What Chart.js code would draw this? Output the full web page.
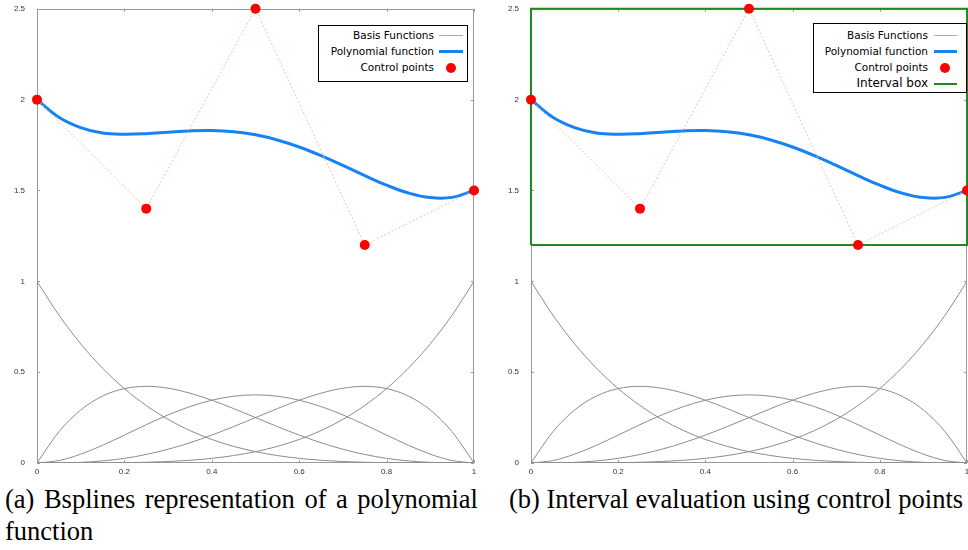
<!DOCTYPE html>
<html>
<head>
<meta charset="utf-8">
<script src="https://cdn.jsdelivr.net/npm/chart.js@4.4.1/dist/chart.umd.min.js"></script>
<style>
  html, body { margin: 0; padding: 0; background: #fff; }
  body { width: 968px; height: 550px; overflow: hidden; position: relative; }
  canvas { position: absolute; top: -8px; }
  .legend { position: absolute; border: 1px solid #000; background: #fff; box-sizing: border-box;
            font-family: "DejaVu Sans", sans-serif; font-size: 10.5px; color: #000; }
  .row { display: flex; align-items: center; height: 16px; }
  .row .txt { text-align: right; white-space: nowrap; }
  .row .smp { position: relative; height: 16px; }
  .caption { position: absolute; font-family: "Liberation Serif", serif;
             font-size: 26.5px; line-height: 32px; color: #000; }
</style>
</head>
<body>
<canvas id="left" width="484" height="488" style="left:0"></canvas>
<canvas id="right" width="484" height="488" style="left:494px"></canvas>

<div class="legend" style="left:318px; top:25px; width:150px; height:57px; padding-top:1px;">
  <div class="row"><span class="txt" style="width:115px">Basis Functions</span><span class="smp" style="margin-left:5px;width:24px"><i style="position:absolute;left:0;right:0;top:8px;border-top:1px solid #aaa"></i></span></div>
  <div class="row"><span class="txt" style="width:115px">Polynomial function</span><span class="smp" style="margin-left:5px;width:24px"><i style="position:absolute;left:0;right:0;top:7px;border-top:3px solid #1683f5"></i></span></div>
  <div class="row"><span class="txt" style="width:115px">Control points</span><span class="smp" style="margin-left:5px;width:24px"><i style="position:absolute;left:7px;top:4px;width:10px;height:10px;border-radius:50%;background:#f00"></i></span></div>
</div>

<div class="legend" style="left:813px; top:23px; width:154px; height:70px; padding-top:3px;">
  <div class="row"><span class="txt" style="width:114px">Basis Functions</span><span class="smp" style="margin-left:6px;width:23px"><i style="position:absolute;left:0;right:0;top:8px;border-top:1px solid #aaa"></i></span></div>
  <div class="row"><span class="txt" style="width:114px">Polynomial function</span><span class="smp" style="margin-left:6px;width:23px"><i style="position:absolute;left:0;right:0;top:7px;border-top:3px solid #1683f5"></i></span></div>
  <div class="row"><span class="txt" style="width:114px">Control points</span><span class="smp" style="margin-left:6px;width:23px"><i style="position:absolute;left:6px;top:4px;width:10px;height:10px;border-radius:50%;background:#f00"></i></span></div>
  <div class="row"><span class="txt" style="width:114px;font-size:12px">Interval box</span><span class="smp" style="margin-left:6px;width:23px"><i style="position:absolute;left:0;right:0;top:8px;border-top:2px solid #1f8a1f"></i></span></div>
</div>

<div class="caption" style="left:5px; top:483px; width:473px; text-align:justify;">(a) Bsplines representation of a polynomial function</div>
<div class="caption" style="left:509px; top:483px; white-space:nowrap;">(b) Interval evaluation using control points</div>

<script>
// sample positions along the parameter axis
const tValues = [0, 0.05, 0.1, 0.15, 0.2, 0.25, 0.3, 0.35, 0.4, 0.45, 0.5,
                 0.55, 0.6, 0.65, 0.7, 0.75, 0.8, 0.85, 0.9, 0.95, 1];

const basis0 = [1, 0.8145, 0.6561, 0.5220, 0.4096, 0.3164, 0.2401, 0.1785, 0.1296, 0.0915, 0.0625,
                0.0410, 0.0256, 0.0150, 0.0081, 0.0039, 0.0016, 0.0005, 0.0001, 0.0000, 0];
const basis1 = [0, 0.1715, 0.2916, 0.3685, 0.4096, 0.4219, 0.4116, 0.3845, 0.3456, 0.2995, 0.25,
                0.2005, 0.1536, 0.1115, 0.0756, 0.0469, 0.0256, 0.0115, 0.0036, 0.0005, 0];
const basis2 = [0, 0.0135, 0.0486, 0.0975, 0.1536, 0.2109, 0.2646, 0.3105, 0.3456, 0.3675, 0.375,
                0.3675, 0.3456, 0.3105, 0.2646, 0.2109, 0.1536, 0.0975, 0.0486, 0.0135, 0];
const basis3 = [0, 0.0005, 0.0036, 0.0115, 0.0256, 0.0469, 0.0756, 0.1115, 0.1536, 0.2005, 0.25,
                0.2995, 0.3456, 0.3845, 0.4116, 0.4219, 0.4096, 0.3685, 0.2916, 0.1715, 0];
const basis4 = [0, 0.0000, 0.0001, 0.0005, 0.0016, 0.0039, 0.0081, 0.0150, 0.0256, 0.0410, 0.0625,
                0.0915, 0.1296, 0.1785, 0.2401, 0.3164, 0.4096, 0.5220, 0.6561, 0.8145, 1];

// the blue polynomial curve
const polynomial = [2, 1.9035, 1.8464, 1.8163, 1.8098, 1.8129, 1.8208, 1.8279, 1.8298, 1.8232, 1.8063,
                    1.7782, 1.7394, 1.6916, 1.6376, 1.5816, 1.5290, 1.4861, 1.4608, 1.4621, 1.5];

// control points
const ctrlX = [0, 0.25, 0.5, 0.75, 1];
const ctrlY = [2, 1.4, 2.5, 1.2, 1.5];

// interval box corners (right plot)
const boxX = [0, 1, 1, 0, 0];
const boxY = [1.2, 1.2, 2.5, 2.5, 1.2];

const xTicks = [0, 0.2, 0.4, 0.6, 0.8, 1];
const yTicks = [0, 0.5, 1, 1.5, 2, 2.5];

const zip = (xs, ys) => xs.map((x, i) => ({ x: x, y: ys[i] }));

Chart.defaults.font.family = '"Liberation Sans", Arial, sans-serif';
Chart.defaults.font.size = 8;
Chart.defaults.color = '#333';

// gnuplot-like frame with small inward ticks
const framePlugin = {
  id: 'frame',
  beforeDatasetsDraw(chart) {
    const { ctx, chartArea: a, scales } = chart;
    ctx.save();
    ctx.strokeStyle = '#999';
    ctx.lineWidth = 1;
    ctx.strokeRect(Math.round(a.left) + 0.5, Math.round(a.top) + 0.5,
                   Math.round(a.right - a.left) - 1, Math.round(a.bottom - a.top) - 1);
    ctx.beginPath();
    xTicks.forEach(v => {
      const px = Math.round(scales.x.getPixelForValue(v)) + 0.5;
      ctx.moveTo(px, a.bottom); ctx.lineTo(px, a.bottom - 3);
      ctx.moveTo(px, a.top); ctx.lineTo(px, a.top + 3);
    });
    yTicks.forEach(v => {
      const py = Math.round(scales.y.getPixelForValue(v)) + 0.5;
      ctx.moveTo(a.left, py); ctx.lineTo(a.left + 3, py);
      ctx.moveTo(a.right, py); ctx.lineTo(a.right - 3, py);
    });
    ctx.stroke();
    ctx.restore();
  }
};

function basisSet(vals) {
  return {
    data: zip(tValues, vals),
    borderColor: '#8c8c8c',
    borderWidth: 1,
    pointRadius: 0,
    cubicInterpolationMode: 'monotone',
    order: 4
  };
}

function makeChart(id, withBox, padRight) {
  const datasets = [
    {
      data: zip(ctrlX, ctrlY),
      borderColor: '#ffb8b8',
      borderWidth: 1,
      borderDash: [2, 2],
      pointRadius: 5,
      pointBackgroundColor: '#ff0000',
      pointBorderColor: '#ff0000',
      pointBorderWidth: 0,
      clip: false,
      order: 0
    },
    {
      data: zip(tValues, polynomial),
      borderColor: '#1683f5',
      borderWidth: 3,
      pointRadius: 0,
      tension: 0.4,
      order: 1
    },
    basisSet(basis0), basisSet(basis1), basisSet(basis2), basisSet(basis3), basisSet(basis4)
  ];
  if (withBox) {
    datasets.push({
      data: zip(boxX, boxY),
      borderColor: '#1f8a1f',
      borderWidth: 2,
      pointRadius: 0,
      clip: 2,
      order: 2
    });
  }
  return new Chart(document.getElementById(id), {
    type: 'line',
    data: { datasets: datasets },
    options: {
      responsive: false,
      animation: false,
      layout: { autoPadding: false, padding: { top: 16, right: padRight, left: 0, bottom: 0 } },
      plugins: { legend: { display: false }, tooltip: { enabled: false } },
      scales: {
        x: {
          type: 'linear', min: 0, max: 1,
          afterFit: s => { s.height = 17; },
          afterBuildTicks: s => { s.ticks = xTicks.map(v => ({ value: v })); },
          grid: { display: false, drawTicks: false },
          border: { display: false },
          ticks: { padding: 4, maxRotation: 0, callback: v => String(v) }
        },
        y: {
          type: 'linear', min: 0, max: 2.5,
          afterFit: s => { s.width = 37; },
          afterBuildTicks: s => { s.ticks = yTicks.map(v => ({ value: v })); },
          grid: { display: false, drawTicks: false },
          border: { display: false },
          ticks: { padding: 12, callback: v => String(v) }
        }
      }
    },
    plugins: [framePlugin]
  });
}

makeChart('left', false, 10);
makeChart('right', true, 11);
</script>
</body>
</html>
